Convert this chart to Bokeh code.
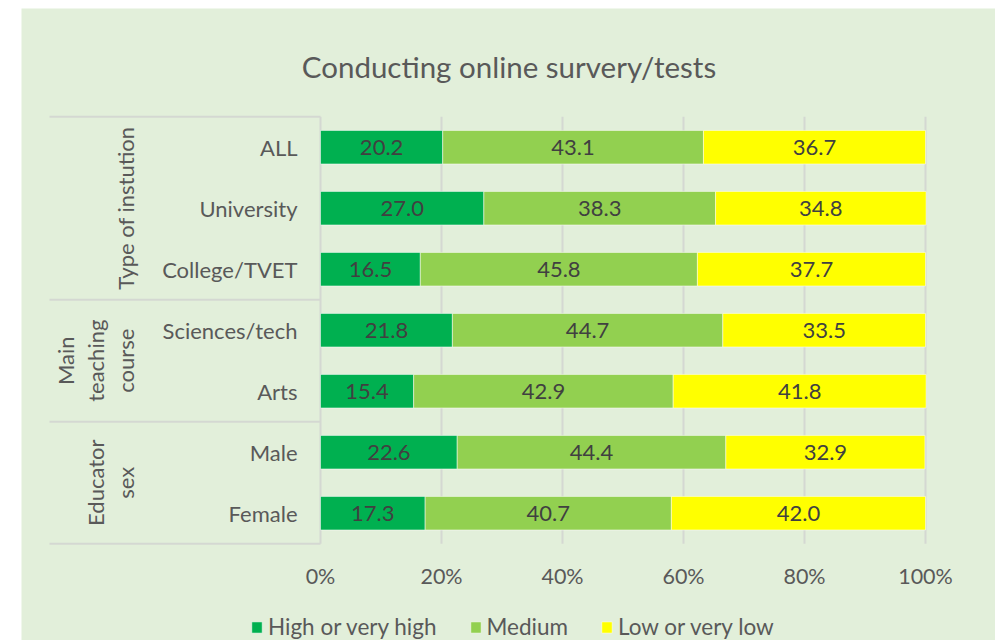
import math
from bokeh.plotting import figure
from bokeh.models import (Range1d, LinearAxis, FixedTicker, ColumnDataSource,
                          Legend, LegendItem, Label, Spacer)
from bokeh.layouts import row, column
from bokeh.core.properties import value
from bokeh.embed import file_html
from bokeh.resources import INLINE

# ---------------- data ----------------
categories = ["ALL", "University", "College/TVET", "Sciences/tech", "Arts", "Male", "Female"]
high = [20.2, 27.0, 16.5, 21.8, 15.4, 22.6, 17.3]
medium = [43.1, 38.3, 45.8, 44.7, 42.9, 44.4, 40.7]
low = [36.7, 34.8, 37.7, 33.5, 41.8, 32.9, 42.0]
series_names = ["High or very high", "Medium", "Low or very low"]
series_colors = ["#00B050", "#92D050", "#FFFF00"]
groups = ["Type of instution", "Main\nteaching\ncourse", "Educator\nsex"]
group_sizes = [3, 2, 2]
x_ticks = [0, 20, 40, 60, 80, 100]
x_tick_labels = ["0%", "20%", "40%", "60%", "80%", "100%"]
title_text = "Conducting online survery/tests"

# ---------------- layout constants ----------------
BG = "#E2EFDA"
TXT = "#595959"
LBL = "#404040"
LINE = "#D4D8D2"
FONT = "Lato"
FS = "22px"
W, H = 974, 632
PX_X = 6.05          # px per percent
X0_PX = 299          # frame px of 0%
PX_Y = 61.0          # px per category band
TOP_PX = 108.2       # frame px (from top) of first band's top edge
n = len(categories)

x_start = -X0_PX / PX_X
x_end = x_start + W / PX_X
y_top = (n - 0.5) + TOP_PX / PX_Y
y_bot = y_top - H / PX_Y

p = figure(width=W, height=H, output_backend="svg", toolbar_location=None,
           x_range=Range1d(x_start, x_end), y_range=Range1d(y_bot, y_top),
           x_axis_location=None, y_axis_location=None, min_border=0,
           background_fill_color=BG, border_fill_color=BG, outline_line_color=None)
p.grid.visible = False

ypos = [n - 1 - i for i in range(n)]

# gridlines and separators
p.segment(x0=x_ticks, y0=[-0.5] * len(x_ticks), x1=x_ticks, y1=[n - 0.5] * len(x_ticks),
          line_color=LINE, line_width=2)
bounds = [n - 0.5]
for g in group_sizes:
    bounds.append(bounds[-1] - g)
sep_left = (49 - 320) / PX_X
p.segment(x0=[sep_left] * len(bounds), y0=bounds, x1=[0] * len(bounds), y1=bounds,
          line_color=LINE, line_width=2)

# stacked bars
series = [high, medium, low]
left = [0.0] * n
renderers = []
for vals, name, col in zip(series, series_names, series_colors):
    right = [l + v for l, v in zip(left, vals)]
    src = ColumnDataSource(dict(y=ypos, left=left, right=right,
                                mid=[(l + r) / 2 for l, r in zip(left, right)],
                                lab=[f"{v:.1f}" for v in vals]))
    r = p.hbar(y="y", left="left", right="right", height=0.55, source=src,
               fill_color=col, line_color="white", line_alpha=0.5, line_width=1)
    p.text(x="mid", y="y", text="lab", source=src, text_align="center",
           text_baseline="middle", text_color=LBL, text_font=value(FONT),
           text_font_size=FS)
    renderers.append(r)
    left = right

# category labels
p.text(x=[0] * n, y=ypos, text=categories, x_offset=-23, text_align="right",
       text_baseline="middle", text_color=TXT, text_font=value(FONT),
       text_font_size=FS)

# group labels (rotated)
gcent = [(bounds[i] + bounds[i + 1]) / 2 for i in range(len(groups))]
nlines = [g.count("\n") + 1 for g in groups]
goff = [-195 - (k - 1) * 15 for k in nlines]
p.text(x=[0] * len(groups), y=gcent, text=groups, x_offset=goff, angle=math.pi / 2,
       text_align="center", text_baseline="middle", text_color=TXT,
       text_font=value(FONT), text_font_size=FS, text_line_height=1.1)

# x axis
xaxis = LinearAxis(ticker=FixedTicker(ticks=x_ticks),
                   major_label_overrides={t: l for t, l in zip(x_ticks, x_tick_labels)},
                   fixed_location=-0.5, axis_line_color=None,
                   major_tick_line_color=None, minor_tick_line_color=None,
                   major_label_standoff=13, major_label_text_font=FONT,
                   major_label_text_font_size="21.5px", major_label_text_color=TXT)
p.add_layout(xaxis, "below")

# title
p.add_layout(Label(x=487.5, y=H - 58, x_units="screen", y_units="screen",
                   text=title_text, text_align="center", text_baseline="middle",
                   text_font=FONT, text_font_size="29.5px", text_color=TXT))

# legend
legend = Legend(items=[LegendItem(label=value(nm), renderers=[r])
                       for nm, r in zip(series_names, renderers)],
                orientation="horizontal", location=(229, 0),
                background_fill_alpha=0, border_line_color=None,
                glyph_width=13, glyph_height=14, label_standoff=5, spacing=32,
                padding=0, margin=0, label_text_font=FONT,
                label_text_font_size="22.5px", label_text_color=TXT)
p.add_layout(legend, "center")

layout = column(Spacer(width=995, height=8),
                row(Spacer(width=21, height=H), p))
open("out.html", "w").write(file_html(layout, INLINE))
